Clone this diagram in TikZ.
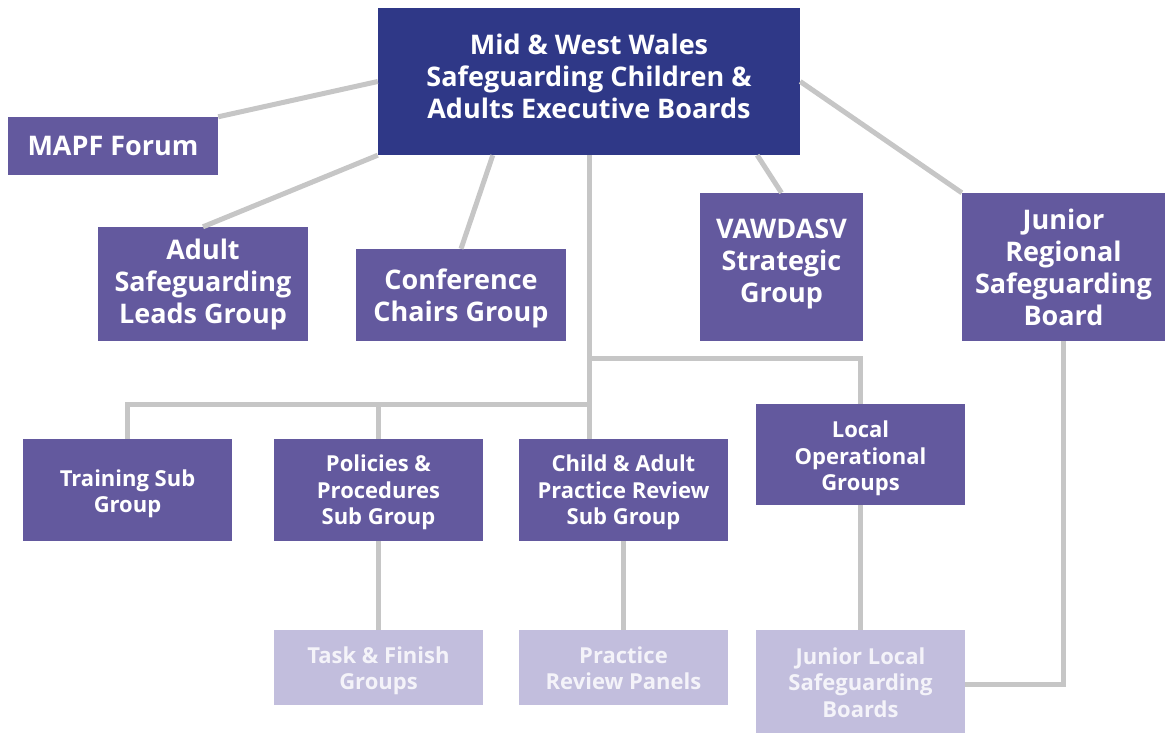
\documentclass[tikz,border=0pt]{standalone}
\usepackage{fontspec}
\setmainfont{Open Sans}
\definecolor{navy}{HTML}{2F3887}
\definecolor{board}{HTML}{63599E}
\definecolor{lilac}{HTML}{C2BEDD}
\definecolor{lilactext}{HTML}{F4F3F9}
\definecolor{link}{HTML}{C6C6C6}
\tikzset{
  exec/.style={fill=navy, text=white, align=center, inner sep=0pt,
    font=\bfseries\fontsize{27}{32}\selectfont},
  group/.style={fill=board, text=white, align=center, inner sep=0pt,
    font=\bfseries\fontsize{27}{32}\selectfont},
  subgroup/.style={fill=board, text=white, align=center, inner sep=0pt,
    font=\bfseries\fontsize{22}{26.5}\selectfont},
  panel/.style={fill=lilac, text=lilactext, align=center, inner sep=0pt,
    font=\bfseries\fontsize{22}{26.5}\selectfont},
  link/.style={draw=link, line width=5pt}
}
\begin{document}
\begin{tikzpicture}[x=1pt, y=-1pt]
            \useasboundingbox (0,0) rectangle (1165,733);

            % Boards and groups
            \node[exec, text depth=10pt, minimum width=422, minimum height=147] (top) at (589,81.5) {Mid \& West Wales\\Safeguarding Children \&\\Adults Executive Boards};
            \node[group, minimum width=210, minimum height=58] (mapf) at (113,146) {MAPF Forum};
            \node[group, minimum width=210, minimum height=114] (adult) at (203,284) {Adult\\Safeguarding\\Leads Group};
            \node[group, text height=58.5pt, minimum width=210, minimum height=92] (conf) at (461,295) {Conference\\Chairs Group};
            \node[group, text depth=12pt, minimum width=163, minimum height=148] (vaw) at (781.5,267) {VAWDASV\\Strategic\\Group};
            \node[group, minimum width=203, minimum height=148] (jrsb) at (1063.5,267) {Junior\\Regional\\Safeguarding\\Board};
            \node[subgroup, text height=51pt, minimum width=209, minimum height=102] (training) at (127.5,490) {Training Sub\\Group};
            \node[subgroup, text height=75pt, minimum width=209, minimum height=102] (policies) at (378.5,490) {Policies \&\\Procedures\\Sub Group};
            \node[subgroup, text height=74.5pt, minimum width=209, minimum height=102] (cap) at (623.5,490) {Child \& Adult\\Practice Review\\Sub Group};
            \node[subgroup, text height=77.5pt, minimum width=209, minimum height=101] (local) at (860.5,454.5) {Local\\Operational\\Groups};
            \node[panel, text height=50pt, minimum width=209, minimum height=75] (task) at (378.5,667.5) {Task \& Finish\\Groups};
            \node[panel, text height=45pt, minimum width=209, minimum height=75] (panels) at (623.5,667.5) {Practice\\Review Panels};
            \node[panel, text height=72pt, minimum width=209, minimum height=103] (jlsb) at (860.5,681.5) {Junior Local\\Safeguarding\\Boards};

            % Junctions
            \coordinate (hub) at (589,358);
            \coordinate (bus) at (589,404);

            % Links
            \draw[link] (mapf.north east) -- (top.west);
            \draw[link] (adult.north) -- (top.south west);
            \draw[link] (conf.north) -- ([xshift=115pt]top.south west);
            \draw[link] (vaw.north) -- ([xshift=-43pt]top.south east);
            \draw[link] (jrsb.north west) -- (top.east);
            \draw[link] (top.south) -- (top.south |- cap.north);
            \draw[link] (hub) -| (local.north);
            \draw[link] (bus) -| (training.north);
            \draw[link] (bus) -| (policies.north);
            \draw[link] (policies) -- (task);
            \draw[link] (cap.south |- panels.north) -- (cap.south);
            \draw[link] (local) -- (jlsb);
            \draw[link] (jrsb.south) |- ([yshift=-2.5pt]jlsb.east);
\end{tikzpicture}
\end{document}
